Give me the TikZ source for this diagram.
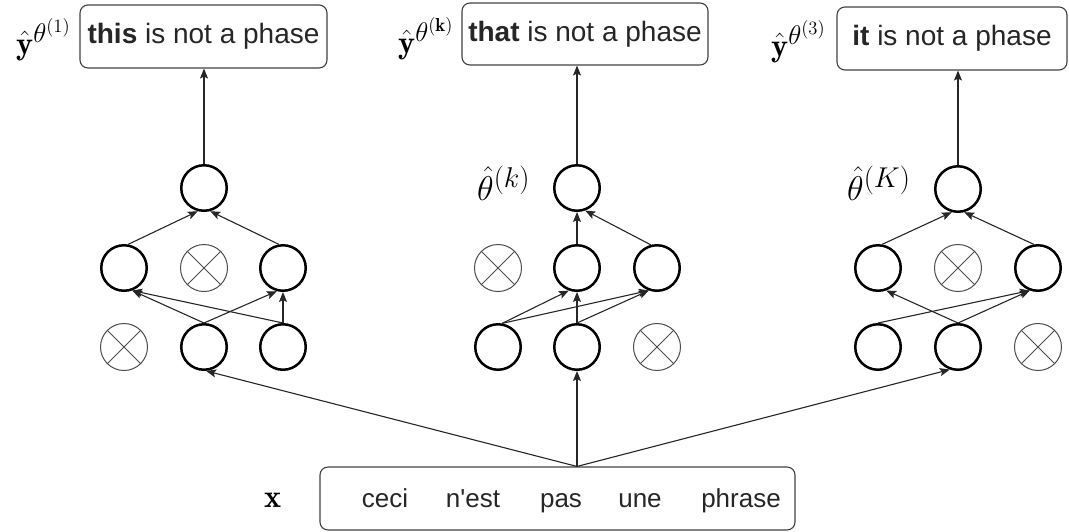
\documentclass[tikz,border=0pt]{standalone}
\usepackage{fontspec}
\newfontfamily\boxfont{Liberation Sans}
\usetikzlibrary{arrows.meta}
\DeclareMathSizes{24.88}{24.88}{20.74}{14.4}
\newcommand{\outlbl}[1]{\scalebox{1.3}{$#1$}}
\newcommand{\parlbl}[1]{\scalebox{1.38}{$#1$}}

\begin{document}
\begin{tikzpicture}[x=1pt,y=-1pt,
  neuron/.style={circle, draw=black, line width=2.5pt, minimum size=45.5pt, inner sep=0pt},
  dropped/.style={circle, draw=black!70, line width=1pt, minimum size=47pt, inner sep=0pt,
    path picture={\draw[black!70, line width=1pt]
      (path picture bounding box.north west) -- (path picture bounding box.south east)
      (path picture bounding box.north east) -- (path picture bounding box.south west);}},
  textbox/.style={draw=black!75, line width=1.1pt, rounded corners=8pt, inner sep=0pt,
    font=\boxfont\fontsize{28}{32}\selectfont, text=black!85},
  word/.style={inner sep=0pt, font=\boxfont\fontsize{26}{30}\selectfont, text=black!85},
  wire/.style={line width=1.1pt, draw=black!85, -{Stealth[length=10pt,width=8pt,inset=2pt]}},
  mathlbl/.style={inner sep=0pt, font=\fontsize{24.88}{30}\selectfont},
]
\useasboundingbox (0,0) rectangle (1069,531);

% output sentences
\node[textbox, minimum width=247pt, minimum height=63pt] (out1) at (203.5,36.5) {\textbf{this} is not a phase};
\node[textbox, minimum width=246pt, minimum height=62pt] (outk) at (585,34) {\textbf{that} is not a phase};
\node[textbox, minimum width=230pt, minimum height=63pt] (outK) at (952,38.5) {\textbf{it} is not a phase};

\node[mathlbl, anchor=base west] (y1) at (16,54) {\outlbl{\hat{\mathbf{y}}^{\theta^{(1)}}}};
\node[mathlbl, anchor=base west] (yk) at (398,53) {\outlbl{\hat{\mathbf{y}}^{\theta^{(\mathbf{k})}}}};
\node[mathlbl, anchor=base west] (yK) at (771,56) {\outlbl{\hat{\mathbf{y}}^{\theta^{(3)}}}};

% source sentence
\node[draw=black!75, line width=1.1pt, rounded corners=8pt, minimum width=475pt, minimum height=63pt] (src) at (557.5,498.5) {};
\node[word, anchor=base] (w1) at (385,507) {ceci};
\node[word, anchor=base] (w2) at (473,507) {n'est};
\node[word, anchor=base] (w3) at (561,507) {pas};
\node[word, anchor=base] (w4) at (640,507) {une};
\node[word, anchor=base] (w5) at (741,507) {phrase};
\node[mathlbl, anchor=base west] (xl) at (264,507) {\scalebox{1.3}{$\mathbf{x}$}};

% parameter labels
\node[mathlbl, anchor=base west] (tk) at (477,200) {\parlbl{\hat{\theta}^{(k)}}};
\node[mathlbl, anchor=base west] (tK) at (847,200) {\parlbl{\hat{\theta}^{(K)}}};

% left sub-network
\node[neuron]  (Lt) at (204,188) {};
\node[neuron]  (L1) at (124,268) {};
\node[dropped] (L2) at (204,268) {};
\node[neuron]  (L3) at (283,268) {};
\node[dropped] (L4) at (124,347) {};
\node[neuron]  (L5) at (204,347) {};
\node[neuron]  (L6) at (283,347) {};

% middle sub-network
\node[neuron]  (Mt) at (577,188) {};
\node[dropped] (M1) at (498,268) {};
\node[neuron]  (M2) at (577,268) {};
\node[neuron]  (M3) at (657,268) {};
\node[neuron]  (M4) at (498,347) {};
\node[neuron]  (M5) at (577,347) {};
\node[dropped] (M6) at (657,347) {};

% right sub-network
\node[neuron]  (Rt) at (958,189) {};
\node[neuron]  (R1) at (878,268) {};
\node[dropped] (R2) at (958,268) {};
\node[neuron]  (R3) at (1038,268) {};
\node[neuron]  (R4) at (878,347) {};
\node[neuron]  (R5) at (958,347) {};
\node[dropped] (R6) at (1038,347) {};

% outputs
\draw[wire] (Lt.north) -- (Lt.north |- out1.south);
\draw[wire] (Mt.north) -- (Mt.north |- outk.south);
\draw[wire] (Rt.north) -- (Rt.north |- outK.south);

% left connections
\draw[wire] (L1.80) -- (Lt.255);
\draw[wire] (L3.100) -- (Lt.285);
\draw[wire] (L5.north) -- (L1.290);
\draw[wire] (L6.north) -- (L1.290);
\draw[wire] (L5.north) -- (L3.255);
\draw[wire] (L6.north) -- (L3.south);

% middle connections
\draw[wire] (M2.north) -- (Mt.south);
\draw[wire] (M3.105) -- (Mt.290);
\draw[wire] (M4.80) -- (M2.250);
\draw[wire] (M4.80) -- (M3.250);
\draw[wire] (M5.north) -- (M2.south);
\draw[wire] (M5.north) -- (M3.250);

% right connections
\draw[wire] (R1.80) -- (Rt.255);
\draw[wire] (R3.100) -- (Rt.285);
\draw[wire] (R4.north) -- (R3.250);
\draw[wire] (R5.north) -- (R1.290);
\draw[wire] (R5.north) -- (R3.250);

% input fan-out
\coordinate (hub) at (M5.south |- src.north);
\draw[wire] (hub) -- (L5.275);
\draw[wire] (hub) -- (M5.south);
\draw[wire] (hub) -- (R5.250);
\end{tikzpicture}
\end{document}
